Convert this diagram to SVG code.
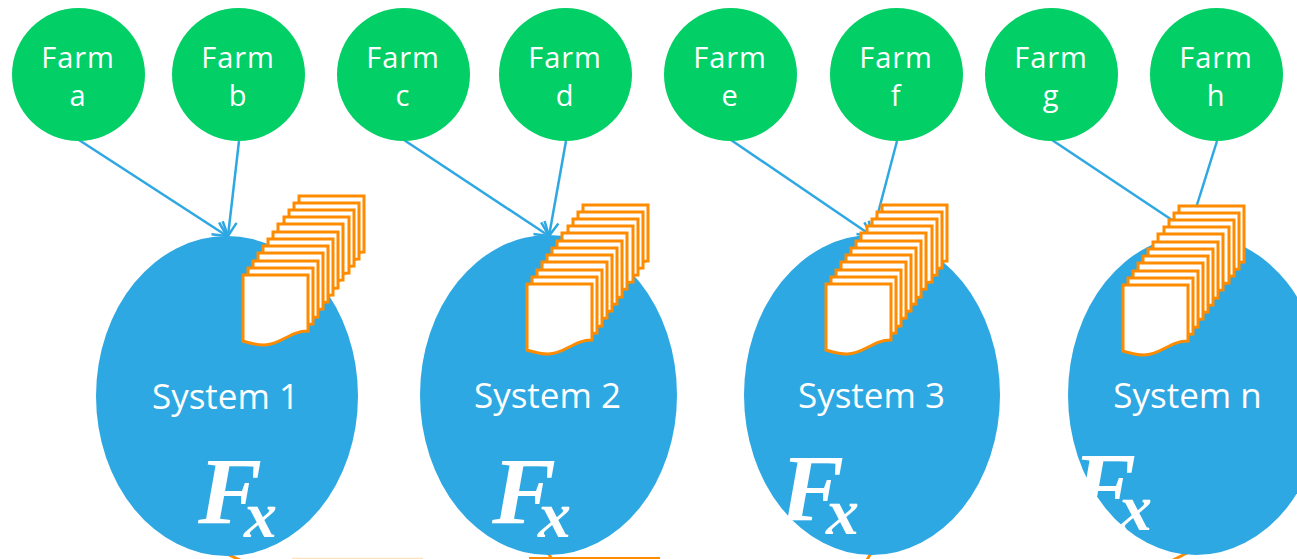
<svg xmlns="http://www.w3.org/2000/svg" xmlns:xlink="http://www.w3.org/1999/xlink" width="1297" height="559" viewBox="0 0 1297 559">
<style>
.farm{fill:#02cf66}
.sys{fill:#2ea8e2}
.t{fill:#fff;font-family:"Open Sans","DejaVu Sans",sans-serif;text-anchor:middle}
.f{font-size:29px;letter-spacing:.9px}
.s{font-size:35px}
.c{stroke:#2ea8e2;stroke-width:2.5;fill:none;marker-end:url(#ah)}
.c2{stroke:#2ea8e2;stroke-width:2.5;fill:none}
.sheet{fill:#fff;stroke:#ff8c00;stroke-width:3;stroke-linejoin:miter}
.fx{fill:#fff;font-family:"Liberation Serif",serif;font-style:italic;font-weight:bold;font-size:96px}
.fx tspan{font-size:66px}
.o{stroke:#ff8c00;stroke-width:3;fill:none}
</style>
<defs>
<marker id="ah" viewBox="0 0 20 20" refX="18" refY="10" markerWidth="20" markerHeight="20" markerUnits="userSpaceOnUse" orient="auto"><path d="M4 3L18 10L4 17" fill="none" stroke="#2ea8e2" stroke-width="2.500"/></marker>
<path id="sh" class="sheet" d="M0 0H65V56C46 56 38 70 21 70C12 70 7 68 0 66Z"/>
<g id="stack">
<use xlink:href="#sh" href="#sh" x="56" y="-79"/>
<use xlink:href="#sh" href="#sh" x="51" y="-72"/>
<use xlink:href="#sh" href="#sh" x="46" y="-65"/>
<use xlink:href="#sh" href="#sh" x="41" y="-58"/>
<use xlink:href="#sh" href="#sh" x="35" y="-51"/>
<use xlink:href="#sh" href="#sh" x="30" y="-43"/>
<use xlink:href="#sh" href="#sh" x="25" y="-36"/>
<use xlink:href="#sh" href="#sh" x="20" y="-29"/>
<use xlink:href="#sh" href="#sh" x="15" y="-22"/>
<use xlink:href="#sh" href="#sh" x="10" y="-14"/>
<use xlink:href="#sh" href="#sh" x="5" y="-7"/>
<use xlink:href="#sh" href="#sh" x="0" y="0"/>
</g>
</defs>
<rect width="1297" height="559" fill="#fff"/>
<g id="bottom-fragments">
<path class="o" d="M227 554L240 560M548 553L552 559M867 560L871 553M1173 560L1187 553"/>
<path d="M292 558.500H423" stroke="#ffe3bf" stroke-width="1.500"/>
<path d="M529 558H660" stroke="#ff8c00" stroke-width="2"/>
</g>
<g id="system-1"><ellipse class="sys" cx="227" cy="396" rx="131" ry="160"/><text class="t s" x="225.500" y="409">System 1</text><text class="fx" x="198" y="524">F<tspan dx="-18" dy="13">x</tspan></text></g>
<g id="system-2"><ellipse class="sys" cx="548.500" cy="395" rx="128.500" ry="160"/><text class="t s" x="547.500" y="408">System 2</text><text class="fx" x="492" y="524">F<tspan dx="-18" dy="13">x</tspan></text></g>
<g id="system-3"><ellipse class="sys" cx="872" cy="395" rx="128" ry="160"/><text class="t s" x="871.500" y="408">System 3</text><text class="fx" x="780" y="521">F<tspan dx="-18" dy="13">x</tspan></text></g>
<g id="system-n"><ellipse class="sys" cx="1196" cy="395" rx="128" ry="160"/><text class="t s" x="1187.500" y="408">System n</text><text class="fx" x="1072" y="519">F<tspan dx="-17" dy="11">x</tspan></text></g>
<g id="connectors">
<path class="c" d="M79 140L227 236"/>
<path class="c" d="M239 141L228 236"/>
<path class="c" d="M404 140L549 236"/>
<path class="c" d="M566 141L549 236"/>
<path class="c" d="M731 140L872 236"/>
<path class="c" d="M897 141L872 236"/>
<path class="c2" d="M1052 140L1196 236"/>
<path class="c2" d="M1217 141L1196 208"/>
</g>
<g id="stack-1"><use xlink:href="#stack" href="#stack" x="243" y="275"/></g>
<g id="stack-2"><use xlink:href="#stack" href="#stack" x="527" y="284"/></g>
<g id="stack-3"><use xlink:href="#stack" href="#stack" x="826" y="284"/></g>
<g id="stack-n"><use xlink:href="#stack" href="#stack" x="1123" y="285"/></g>
<g id="farm-a"><circle class="farm" cx="78.500" cy="74.500" r="66.500"/><text class="t f" x="78" y="68">Farm</text><text class="t f" x="78" y="106">a</text></g>
<g id="farm-b"><circle class="farm" cx="238.500" cy="74.500" r="66.500"/><text class="t f" x="238" y="68">Farm</text><text class="t f" x="238" y="106">b</text></g>
<g id="farm-c"><circle class="farm" cx="403.500" cy="74.500" r="66.500"/><text class="t f" x="403" y="68">Farm</text><text class="t f" x="403" y="106">c</text></g>
<g id="farm-d"><circle class="farm" cx="565.500" cy="74.500" r="66.500"/><text class="t f" x="565" y="68">Farm</text><text class="t f" x="565" y="106">d</text></g>
<g id="farm-e"><circle class="farm" cx="730.500" cy="74.500" r="66.500"/><text class="t f" x="730" y="68">Farm</text><text class="t f" x="730" y="106">e</text></g>
<g id="farm-f"><circle class="farm" cx="896.500" cy="74.500" r="66.500"/><text class="t f" x="896" y="68">Farm</text><text class="t f" x="896" y="106">f</text></g>
<g id="farm-g"><circle class="farm" cx="1051.500" cy="74.500" r="66.500"/><text class="t f" x="1051" y="68">Farm</text><text class="t f" x="1051" y="106">g</text></g>
<g id="farm-h"><circle class="farm" cx="1216.500" cy="74.500" r="66.500"/><text class="t f" x="1216" y="68">Farm</text><text class="t f" x="1216" y="106">h</text></g>
</svg>
